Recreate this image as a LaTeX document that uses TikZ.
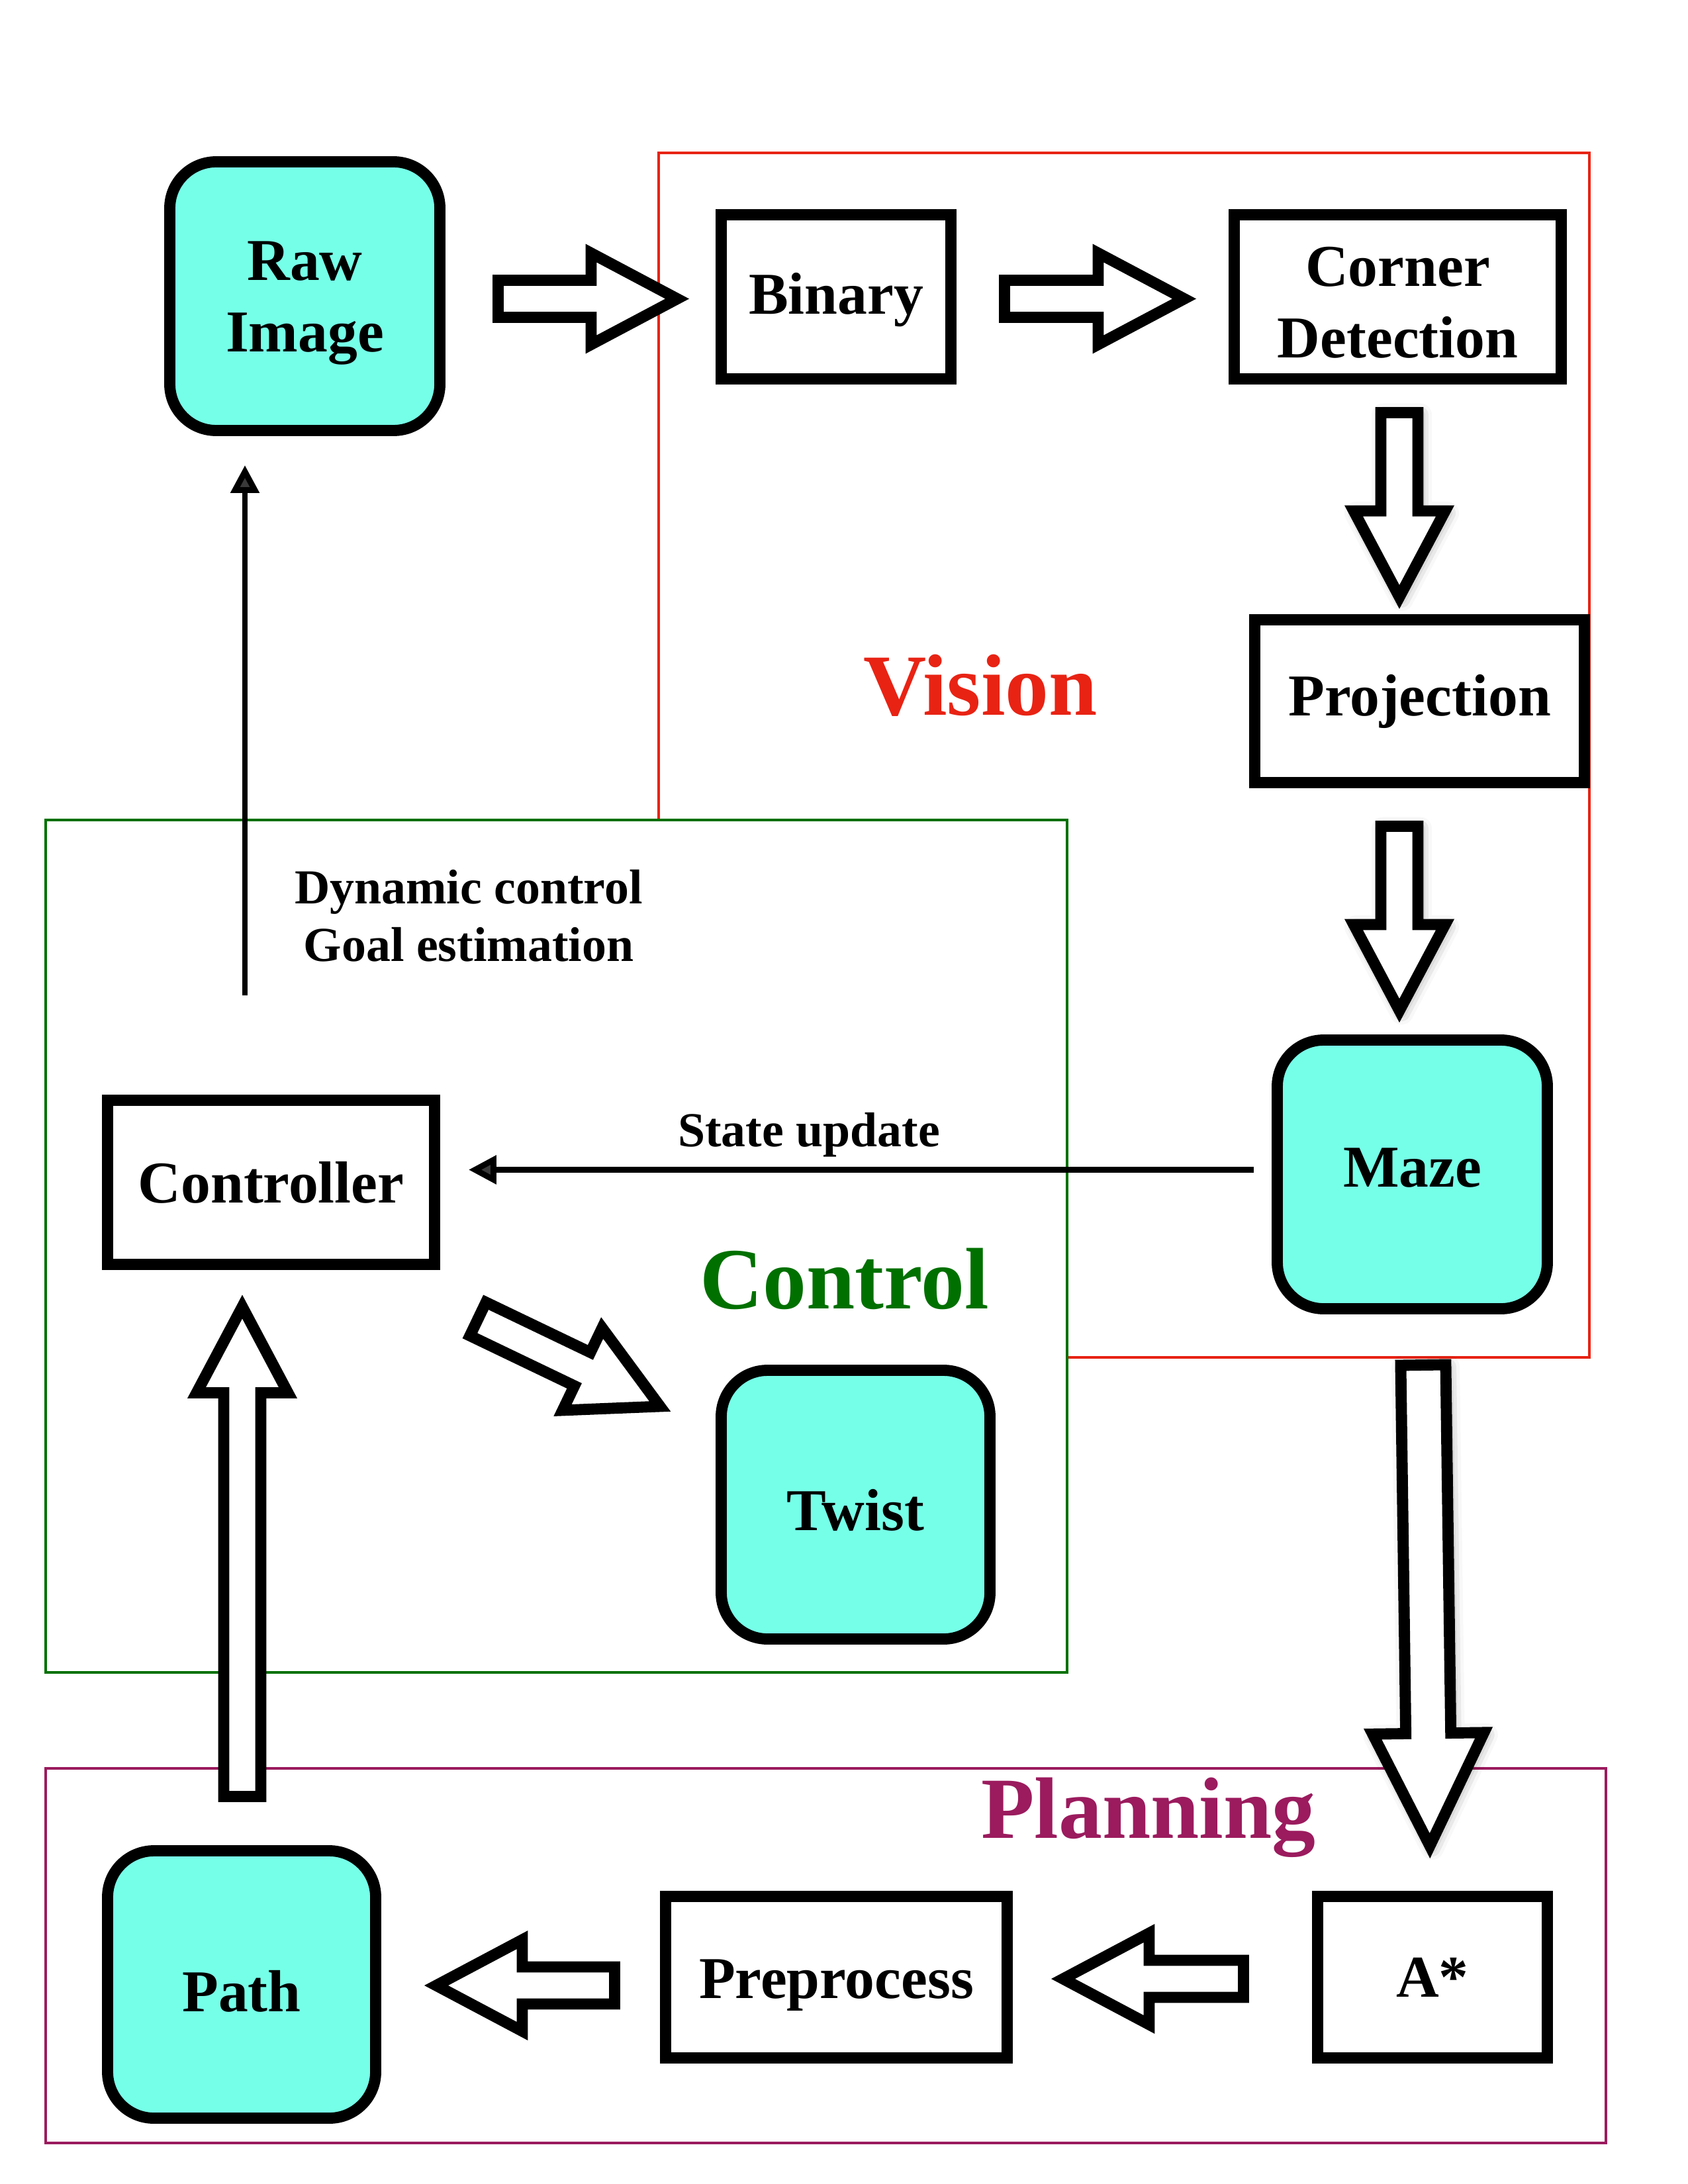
\documentclass[tikz,border=0pt]{standalone}
\usepackage{fontspec}
\setmainfont{Liberation Serif}
\usetikzlibrary{arrows.meta,calc,shadows.blur}

\definecolor{cyanfill}{RGB}{118,255,232}
\definecolor{visred}{RGB}{232,35,20}
\definecolor{ctrlgreen}{RGB}{0,112,0}
\definecolor{planpurple}{RGB}{155,27,94}

\newcommand{\boxfont}{\fontsize{25.5}{30.6}\selectfont\bfseries}
\newcommand{\groupfont}{\fontsize{37.5}{45}\selectfont\bfseries}
\newcommand{\notefont}{\fontsize{21}{24.7}\selectfont\bfseries}

% hollow block arrow: [style] tail, tip, shaft half width, head half width, head length
\newcommand{\fatarrow}[6][]{%
    \coordinate (fahead) at ($(#3)!#6!(#2)$);
    \draw[blockarrow, #1] ($(#2)!#4!90:(#3)$) -- ($(fahead)!#4!90:(#3)$)
        -- ($(fahead)!#5!90:(#3)$) -- (#3) -- ($(fahead)!#5!-90:(#3)$)
        -- ($(fahead)!#4!-90:(#3)$) -- ($(#2)!#4!-90:(#3)$) -- cycle;
}
\newcommand{\stdarrow}[3][]{\fatarrow[#1]{#2}{#3}{0.28cm}{0.69cm}{1.3cm}}

\begin{document}
\begin{tikzpicture}[
    roundbox/.style={draw, line width=4.8pt, fill=cyanfill, rounded corners=0.7cm,
        align=center, font=\boxfont, inner sep=0pt},
    squarebox/.style={draw, line width=4.8pt, fill=white, align=center,
        font=\boxfont, inner sep=0pt},
    textlow/.style={execute at begin node={\rule{0pt}{#1}}},
    texthigh/.style={execute at begin node={\rule[-#1]{0pt}{#1}}},
    blockarrow/.style={draw, line width=4.8pt, fill=white, line join=miter},
    shadowed/.style={blur shadow={shadow xshift=1pt, shadow yshift=-1pt,
        shadow blur radius=5pt, shadow opacity=45}},
    thinarrow/.style={line width=2.5pt, -{Triangle[length=0.42cm, width=0.42cm]}},
    grouplabel/.style={font=\groupfont, anchor=base, inner sep=0pt},
    note/.style={font=\notefont, align=center, inner sep=0pt}]
    \useasboundingbox (0, 0) rectangle (25.5, -33);
        % frames
        \draw[visred, line width=1.3pt] (9.95, -12.39) |- (24.01, -2.31) |- (16.12, -20.51);
        \draw[ctrlgreen, line width=1.3pt] (0.69, -12.39) rectangle (16.12, -25.27);
        \draw[planpurple, line width=1.3pt] (0.69, -26.72) rectangle (24.26, -32.38);
        \node[grouplabel, text=visred] (vision) at (14.81, -10.80) {Vision};
        \node[grouplabel, text=ctrlgreen] (control) at (12.76, -19.77) {Control};
        \node[grouplabel, text=planpurple] (planning) at (17.35, -27.77) {Planning};
        % boxes
        \node[roundbox, minimum width=4.08cm, minimum height=4.06cm] (raw) at (4.605, -4.475) {\rule{0pt}{22.6pt}Raw\\Image};
        \node[squarebox, textlow=20.4pt, minimum width=3.47cm, minimum height=2.48cm] (bin) at (12.63, -4.485) {Binary};
        \node[squarebox, minimum width=4.94cm, minimum height=2.48cm] (corner) at (21.115, -4.485) {\rule{0pt}{21.9pt}Corner\\Detection};
        \node[squarebox, minimum width=4.98cm, minimum height=2.46cm] (proj) at (21.445, -10.595) {Projection};
        \node[roundbox, texthigh=5.7pt, minimum width=4.08cm, minimum height=4.06cm] (maze) at (21.335, -17.745) {Maze};
        \node[squarebox, minimum width=4.94cm, minimum height=2.48cm] (ctrl) at (4.095, -17.865) {Controller};
        \node[roundbox, textlow=22.2pt, minimum width=4.06cm, minimum height=4.06cm] (twist) at (12.925, -22.735) {Twist};
        \node[roundbox, textlow=23.3pt, minimum width=4.05cm, minimum height=4.04cm] (path) at (3.65, -29.985) {Path};
        \node[squarebox, textlow=23.7pt, minimum width=5.16cm, minimum height=2.44cm] (prep) at (12.635, -29.875) {Preprocess};
        \node[squarebox, minimum width=3.47cm, minimum height=2.44cm] (astar) at (21.64, -29.875) {A*};
        % block arrows
        \coordinate (rawbin0) at (7.525, -4.515);   \coordinate (rawbin1) at (10.23, -4.515);
        \coordinate (bincor0) at (15.175, -4.515);  \coordinate (bincor1) at (17.89, -4.515);
        \coordinate (corproj0) at (21.14, -6.235);  \coordinate (corproj1) at (21.14, -9.02);
        \coordinate (projmaze0) at (21.14, -12.485); \coordinate (projmaze1) at (21.14, -15.27);
        \coordinate (mazeast0) at (21.50, -20.625); \coordinate (mazeast1) at (21.60, -27.89);
        \coordinate (astprep0) at (18.785, -29.90); \coordinate (astprep1) at (16.06, -29.90);
        \coordinate (preppath0) at (9.285, -30.00); \coordinate (preppath1) at (6.59, -30.00);
        \coordinate (pathctrl0) at (3.66, -27.145); \coordinate (pathctrl1) at (3.66, -19.745);
        \coordinate (ctrltw0) at (7.22, -19.93);    \coordinate (ctrltw1) at (9.97, -21.25);
        \stdarrow{rawbin0}{rawbin1}
        \stdarrow{bincor0}{bincor1}
        \stdarrow[shadowed]{corproj0}{corproj1}
        \stdarrow[shadowed]{projmaze0}{projmaze1}
        \fatarrow[shadowed]{mazeast0}{mazeast1}{0.34cm}{0.84cm}{1.7cm}
        \stdarrow{astprep0}{astprep1}
        \stdarrow{preppath0}{preppath1}
        \stdarrow{pathctrl0}{pathctrl1}
        \stdarrow{ctrltw0}{ctrltw1}
        % thin arrows
        \coordinate (dyn) at (3.70, -15.04);
        \coordinate (upd) at (0, -17.675);
        \draw[thinarrow, shorten >=0.44cm] (dyn) -- (dyn |- raw.south);
        \draw[thinarrow, shorten <=0.27cm, shorten >=0.43cm] (maze.west |- upd) -- (ctrl.east |- upd);
        \node[note] (dynlabel) at (7.08, -13.84) {Dynamic control\\Goal estimation};
        \node[note, anchor=base] (updlabel) at (12.22, -17.32) {State update};
\end{tikzpicture}
\end{document}
